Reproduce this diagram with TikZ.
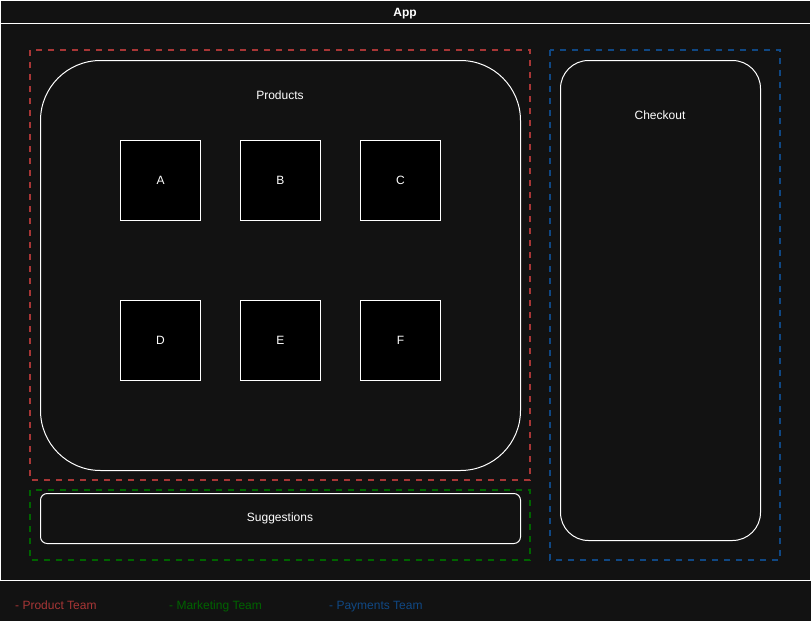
\documentclass[tikz,border=0pt]{standalone}
\usepackage{fontspec}
\setmainfont{Liberation Sans}
\usetikzlibrary{positioning}
\definecolor{appbg}{RGB}{18,18,18}
\definecolor{teamred}{RGB}{168,54,54}
\definecolor{teamgreen}{RGB}{0,100,0}
\definecolor{teamblue}{RGB}{16,72,132}

\tikzset{
  labeltext/.style={text=white, font=\fontsize{9}{11}\selectfont},
  teamzone/.style={dash pattern=on 4.5pt off 4.5pt, line width=1.5pt},
  panel/.style={draw=white, line width=0.75pt},
  itembox/.style={draw=white, fill=black, line width=0.75pt, minimum width=60pt,
    minimum height=60pt, inner sep=0pt, outer sep=0pt, labeltext},
  legendtext/.style={anchor=base west, font=\fontsize{9}{11}\selectfont},
}

\begin{document}
\begin{tikzpicture}[x=0.75pt, y=-0.75pt]
        \useasboundingbox (0,0) rectangle (811,621);
        \fill[appbg] (0,0) rectangle (811,621);
        % app frame
        \draw[panel] (0.5,0.5) rectangle (810.5,580.5);
        \draw[panel] (0.5,23.5) -- (810.5,23.5);
        \node[labeltext, anchor=base, font=\fontsize{9}{11}\selectfont\bfseries] (app) at (405,16.5) {App};
        % team zones
        \draw[teamzone, teamred]   (30,50) rectangle (530,480);
        \draw[teamzone, teamgreen] (30,490) rectangle (530,560);
        \draw[teamzone, teamblue]  (550,50) rectangle (780,560);
        % products
        \draw[panel, rounded corners=45pt] (40.5,60.5) rectangle (520.5,470.5);
        \node[labeltext] (products) at (280,95) {Products};
        \node[itembox] (a) at (160.5,180.5) {A};
        \node[itembox, right=30pt of a] (b) {B};
        \node[itembox, right=30pt of b] (c) {C};
        \node[itembox, below=60pt of a] (d) {D};
        \node[itembox, right=30pt of d] (e) {E};
        \node[itembox, right=30pt of e] (f) {F};
        % suggestions
        \draw[panel, rounded corners=5pt] (40.5,493.5) rectangle (520.5,543.5);
        \node[labeltext] (suggestions) at (280,518) {Suggestions};
        % checkout
        \draw[panel, rounded corners=21pt] (560.5,60.5) rectangle (760.5,540.5);
        \node[labeltext] (checkout) at (660,115) {Checkout};
        % legend
        \node[legendtext, text=teamred]   (legred)   at (10.5,609) {- Product Team};
        \node[legendtext, text=teamgreen] (leggreen) at (164.5,609) {- Marketing Team};
        \node[legendtext, text=teamblue]  (legblue)  at (324.5,609) {- Payments Team};
      \end{tikzpicture}
\end{document}
